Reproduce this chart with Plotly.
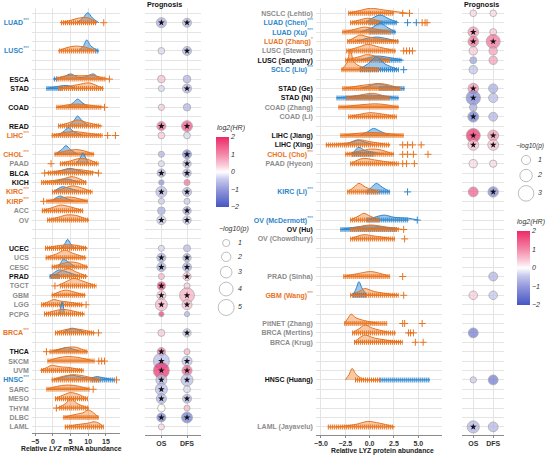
import plotly.graph_objects as go

W, H = 546, 455
SLOT0, SLOT = 13.3, 9.4
FONT = "Arial, 'Liberation Sans', sans-serif"
ORANGE = "#E8731E"
BLUE = "#2F86CC"
ORANGE_FILL = "rgba(236,126,46,0.42)"
BLUE_FILL = "rgba(60,145,215,0.5)"
GRID = "#E4E4E4"
AXIS = "#8A8A8A"
LABEL_COLORS = {"up": "#2E86C8", "down": "#E8731E", "ns": "#111111", "na": "#8C8C8C"}

# ---------------- left panel (TCGA mRNA) ----------------
left_slots = [1, 4, 7, 8, 10, 12, 13, 15, 16, 17, 18, 19, 20, 21, 22, 25, 26, 27, 28, 29, 30,
              31, 32, 34, 36, 37, 38, 39, 40, 41, 42, 43, 44]
left_names = ["LUAD", "LUSC", "ESCA", "STAD", "COAD", "READ", "LIHC", "CHOL", "PAAD", "BLCA", "KICH",
              "KIRC", "KIRP", "ACC", "OV", "UCEC", "UCS", "CESC", "PRAD", "TGCT", "GBM", "LGG", "PCPG",
              "BRCA", "THCA", "SKCM", "UVM", "HNSC", "SARC", "MESO", "THYM", "DLBC", "LAML"]
left_group = ["up", "up", "ns", "ns", "ns", "ns", "down", "down", "na", "ns", "ns", "down", "down", "na",
              "na", "ns", "na", "na", "ns", "na", "na", "na", "na", "down", "ns", "na", "na", "up", "na",
              "na", "na", "na", "na"]
left_sig = ["***", "***", "", "", "", "", "***", "***", "", "", "", "***", "***", "", "", "", "", "", "",
            "", "", "", "", "***", "", "", "", "***", "", "", "", "", ""]

left_tumor_curve = [
    [[2, 0], [4.5, 0.2], [7.5, 0.5], [9.5, 0.55], [11, 0.35], [12.5, 0]],
    [[1.5, 0], [4, 0.35], [6, 0.5], [8.5, 0.45], [10, 0.3], [12, 0]],
    [[0.6, 0], [3, 0.3], [5.1, 0.4], [8, 0.35], [11.4, 0.4], [13.5, 0.2], [15.8, 0]],
    [[1.5, 0], [4, 0.2], [7, 0.4], [10.2, 0.6], [12.5, 0.3], [14.3, 0]],
    [[1, 0], [4, 0.25], [7, 0.35], [10, 0.25], [14.6, 0]],
    [[1.5, 0], [4.5, 0.35], [7, 0.65], [9.5, 0.4], [14, 0]],
    [[-0.3, 0], [3, 0.3], [5.8, 0.42], [9, 0.3], [14.2, 0]],
    [[0.5, 0], [3, 0.3], [6.5, 0.5], [8.5, 0.4], [11.7, 0]],
    [[2, 0], [5, 0.3], [7.5, 0.55], [9.5, 0.5], [12.9, 0]],
    [[-2.3, 0], [1, 0.2], [5.5, 0.42], [9, 0.3], [12.9, 0]],
    [[-3.3, 0], [0, 0.2], [3, 0.4], [5.4, 0.62], [7.5, 0.4], [9.5, 0]],
    [[-0.2, 0], [2.5, 0.3], [5.5, 0.64], [7.5, 0.5], [11.2, 0]],
    [[-2, 0], [1, 0.25], [4, 0.45], [6, 0.4], [9.9, 0]],
    [[-3.1, 0], [0, 0.35], [2.1, 0.6], [4.5, 0.45], [8.6, 0]],
    [[-1.6, 0], [1.5, 0.3], [4, 0.55], [6.5, 0.5], [10.2, 0]],
    [[-2.1, 0], [1, 0.25], [4.5, 0.38], [7, 0.3], [9.9, 0]],
    [[-2, 0], [1, 0.4], [3.4, 0.8], [5.5, 0.5], [9.4, 0]],
    [[-0.3, 0], [2.5, 0.35], [5, 0.55], [7, 0.45], [9.9, 0]],
    [[-0.5, 0], [2, 0.5], [4.4, 0.85], [6.5, 0.5], [9.9, 0]],
    [[1.2, 0], [3.5, 0.4], [5.9, 0.8], [8.5, 0.5], [12.3, 0]],
    [[-0.3, 0], [2, 0.4], [3.7, 0.55], [6, 0.35], [9.2, 0]],
    [[-3.3, 0], [-1, 0.35], [0.2, 0.55], [2, 0.4], [5, 0.25], [8.6, 0]],
    [[-2.5, 0], [0.5, 0.35], [3, 0.5], [5.5, 0.35], [8.9, 0]],
    [[0.6, 0], [3, 0.3], [5.5, 0.45], [8, 0.35], [11.9, 0]],
    [[-0.9, 0], [2, 0.3], [4.5, 0.48], [6.5, 0.48], [9.9, 0]],
    [[-1.5, 0], [1.5, 0.35], [4, 0.48], [7, 0.4], [11.8, 0]],
    [[-3.6, 0], [-1.5, 0.35], [-0.4, 0.55], [2, 0.4], [5, 0.3], [8.7, 0]],
    [[-0.3, 0], [2.5, 0.35], [6, 0.55], [9, 0.4], [13.4, 0]],
    [[-1.8, 0], [1, 0.3], [4, 0.45], [7, 0.35], [10.4, 0]],
    [[0.6, 0], [3, 0.4], [5, 0.65], [7, 0.5], [9.9, 0]],
    [[1.2, 0], [3.5, 0.45], [5.1, 1.05], [6.8, 0.5], [10.2, 0]],
    [[2.8, 0], [6, 0.3], [8.5, 0.5], [10, 0.8], [11.5, 0.5], [13, 0]],
    [[3.4, 0], [7, 0.25], [10, 0.4], [11.7, 0.55], [13, 0.4], [14.4, 0]],
]
left_normal_curve = [
    [[6.8, 0], [8.5, 0.5], [9.9, 1.06], [11.2, 0.5], [13, 0]],
    [[7.2, 0], [8.6, 0.5], [9.6, 1.17], [10.8, 0.5], [12.9, 0]],
    [[0, 0], [3, 0.25], [5.1, 0.55], [7, 0.2], [9, 0.2], [11.5, 0.55], [13, 0.1], [14, 0]],
    [[-1.8, 0], [1, 0.2], [3.5, 0.32], [5, 0.25], [6.5, 0]],
    [[4.1, 0], [5.8, 0.5], [7, 0.87], [8.3, 0.5], [10.3, 0]],
    [[4.5, 0], [6, 0.6], [7, 1.07], [8.2, 0.6], [10.3, 0]],
    [[1.5, 0], [3.3, 0.5], [4.4, 0.85], [5.8, 0.45], [8.6, 0]],
    [[0.5, 0], [2.5, 0.5], [3.7, 0.92], [5, 0.5], [7, 0]],
    [[6.6, 0], [7.7, 0.6], [8.5, 1.14], [9.3, 0.6], [10.2, 0]],
    [[0.5, 0], [3, 0.35], [4.9, 0.5], [7, 0.3], [10, 0]],
    [[0, 0], [2, 0.25], [3.9, 0.37], [5.5, 0.25], [7.8, 0]],
    [[0, 0], [1.5, 0.35], [2.7, 0.55], [4.5, 0.4], [8, 0]],
    [[-0.5, 0], [1, 0.4], [2.1, 0.56], [3.5, 0.35], [6, 0]],
    None,
    None,
    [[2.5, 0], [3.4, 0.5], [4.2, 0.95], [5, 0.5], [6.2, 0]],
    None,
    [[1.5, 0], [2.3, 0.5], [3, 0.83], [4.2, 0.6], [6.4, 0]],
    [[-0.9, 0], [0.5, 0.45], [1.9, 0.7], [3.5, 0.55], [5.5, 0.3], [7.8, 0]],
    None,
    None,
    None,
    [[1.9, 0], [2.6, 1.3], [3.3, 0]],
    [[2.8, 0], [4.3, 0.35], [5.4, 0.5], [7, 0.35], [9.4, 0]],
    [[-0.5, 0], [2, 0.25], [3.9, 0.45], [5.5, 0.3], [8, 0]],
    None,
    None,
    [[0.5, 0], [3, 0.3], [5.4, 0.5], [8, 0.3], [10.5, 0.2], [12.5, 0.35], [14.5, 0.2], [17.5, 0]],
    None, None, None, None, None,
]
left_tumor_rug = [[2.3, 12.4], [1.7, 12.0], [1.0, 15.0], [1.5, 14.3], [1.0, 13.7], [1.5, 13.5],
                  [-0.3, 14.0], [0.5, 11.7], [2.0, 12.9], [-1.4, 11.5], [-3.3, 9.5], [-0.2, 11.2],
                  [-1.8, 9.9], [-3.1, 8.6], [-1.6, 10.2], [-2.2, 9.6], [-2.0, 9.4], [-0.3, 9.9],
                  [-0.5, 9.6], [2.0, 12.3], [-0.3, 9.2], [-3.3, 8.6], [-2.5, 8.9], [0.6, 11.9],
                  [-0.9, 9.9], [-1.5, 11.8], [-3.3, 8.7], [-0.3, 13.4], [-1.8, 10.4], [0.6, 9.9],
                  [1.8, 10.2], [3.0, 13.0], [3.4, 14.4]]
left_tumor_out = [[14.4], [], [16.0], [], [14.6], [], [15.5, 17.7, 20.0], [], [-0.5], [-2.3, 12.9], [],
                  [], [-2.6], [], [], [], [], [], [], [0.6], [], [9.4], [], [12.9], [-1.8],
                  [13.0, 13.8, 14.6], [], [18.0], [11.4], [], [1.0], [], []]
left_normal_rug = [None, [12.0, 13.0], [0.3, 1.5], [-1.8, 2.5], None, None, None, None, None, None, None,
                   None, None, None, None, None, None, None, [-0.9, 2.0], None, None, None, None, None,
                   None, None, None, [11.0, 17.5], None, None, None, None, None]

left_os_hr = [-0.8, -0.3, 0.5, -0.3, 0.4, 1.4, 0.4, -0.7, -0.3, -0.7, -1.1, -0.6, -0.4, -0.8, -0.4,
              -0.3, -0.8, -0.8, 0.6, 1.8, 0.5, 0.6, 1.8, 0.4, 1.3, -0.6, 2.0, -0.6, -0.6, -0.7, 0.0,
              -1.5, 0.3]
left_os_p = [2.3, 0.8, 1.2, 0.5, 0.6, 1.8, 0.8, 0.5, 0.5, 1.5, 0.2, 2.7, 0.5, 1.2, 1.8, 0.5, 1.8, 1.8,
             0.5, 1.4, 1.8, 3.2, 0.1, 0.9, 1.5, 5.0, 5.0, 2.7, 3.2, 2.3, 1.2, 1.8, 0.5]
left_dfs_hr = [-0.7, -0.7, -0.7, -0.7, -0.7, 1.6, -0.3, -1.3, -0.5, -0.7, 1.3, -0.6, -0.4, -0.8, -0.4,
               -0.6, -0.7, -0.8, 0.5, 0.4, 0.7, 0.5, -0.7, -0.4, 0.6, -0.5, 1.5, -0.6, -0.3, -0.7, 0.6,
               -1.5, None]
left_dfs_p = [1.8, 1.8, 1.2, 1.8, 1.1, 2.7, 0.8, 1.8, 1.5, 1.5, 0.5, 1.8, 0.5, 1.5, 1.5, 0.9, 1.5, 1.8,
              1.5, 0.5, 4.5, 2.3, 0.1, 1.5, 0.5, 2.3, 2.3, 3.2, 0.9, 1.8, 0.5, 2.7, None]

# ---------------- right panel (CPTAC protein) ----------------
right_slots = [0, 1, 2, 3, 4, 5, 6, 8, 9, 10, 11, 13, 14, 15, 16, 19, 22, 23, 24, 28, 30, 33, 34, 35, 39, 44]
right_names = ["NSCLC (Lehtio)", "LUAD (Chen)", "LUAD (Xu)", "LUAD (Zhang)", "LUSC (Stewart)",
               "LUSC (Satpathy)", "SCLC (Liu)", "STAD (Ge)", "STAD (Ni)", "COAD (Zhang)", "COAD (Li)",
               "LIHC (Jiang)", "LIHC (Xing)", "CHOL (Cho)", "PAAD (Hyeon)", "KIRC (Li)", "OV (McDermott)",
               "OV (Hu)", "OV (Chowdhury)", "PRAD (Sinha)", "GBM (Wang)", "PitNET (Zhang)",
               "BRCA (Mertins)", "BRCA (Krug)", "HNSC (Huang)", "LAML (Jayavelu)"]
right_group = ["na", "up", "up", "down", "na", "ns", "up", "ns", "ns", "na", "na", "ns", "ns", "down",
               "na", "up", "up", "ns", "na", "na", "down", "na", "na", "na", "ns", "na"]
right_sig = ["", "***", "***", "*", "", "", "***", "", "", "", "", "", "", "***", "", "***", "***", "",
             "", "", "***", "", "", "", "", ""]

right_tumor_curve = [
    [[-2.2, 0], [-1, 0.3], [0.1, 0.53], [1.5, 0.35], [3.9, 0]],
    [[-2, 0], [-1, 0.3], [-0.2, 0.47], [0.6, 0.3], [1.5, 0]],
    [[-2.8, 0], [-1.5, 0.3], [-0.6, 0.53], [0.5, 0.35], [2.2, 0]],
    [[-2.3, 0], [-1.5, 0.45], [-1, 0.69], [0, 0.45], [1.5, 0.2], [3, 0]],
    [[-2.4, 0], [-1, 0.45], [-0.2, 0.7], [1, 0.4], [2.7, 0]],
    [[-2.5, 0], [-1, 0.4], [-0.3, 0.6], [0.8, 0.4], [2.1, 0]],
    [[-2.9, 0], [-2.3, 0.8], [-2.0, 2.2], [-1.6, 0.8], [-0.8, 0.3], [0.5, 0.2], [1.5, 0]],
    [[-2.8, 0], [-1, 0.3], [0.5, 0.48], [1.5, 0.48], [3.2, 0]],
    [[-2.4, 0], [-1, 0.3], [0.3, 0.49], [1.2, 0.3], [2.1, 0]],
    [[-3.2, 0], [-1.5, 0.2], [0.5, 0.37], [1.5, 0.3], [3, 0]],
    [[-2.2, 0], [-1, 0.25], [0, 0.43], [1.2, 0.3], [2.8, 0]],
    [[-3, 0], [-1.5, 0.2], [0, 0.32], [1.5, 0.25], [3.5, 0]],
    [[-4.5, 0], [-2, 0.25], [-1, 0.53], [0, 0.35], [2.1, 0]],
    [[-2.5, 0], [-1, 0.35], [0.1, 0.55], [1, 0.5], [2.5, 0]],
    [[-2, 0], [-1.2, 0.4], [-0.6, 0.57], [0.5, 0.4], [3, 0]],
    [[-2.3, 0], [-1.6, 0.5], [-1.1, 0.91], [-0.4, 0.5], [1, 0]],
    [[-2, 0], [-1.1, 0.45], [-0.6, 0.72], [0, 0.45], [1, 0]],
    [[-2, 0], [-0.8, 0.35], [0.1, 0.48], [1.5, 0.3], [3.4, 0]],
    [[-2, 0], [-1.2, 0.3], [-0.6, 0.45], [0.5, 0.3], [2.6, 0]],
    [[-2.7, 0], [-1, 0.35], [0.1, 0.53], [1, 0.35], [2.1, 0]],
    [[-2, 0], [-1, 0.45], [-0.5, 0.72], [0.5, 0.4], [3, 0]],
    [[-2.6, 0], [-2.2, 0.6], [-1.9, 1.0], [-1.4, 0.6], [-0.5, 0.3], [1.1, 0]],
    [[-1.8, 0], [-1, 0.5], [-0.5, 0.85], [0.3, 0.5], [2.2, 0]],
    [[-1.6, 0], [-1, 0.5], [-0.5, 0.78], [0.5, 0.45], [3.4, 0]],
    [[-2.5, 0], [-2.1, 0.6], [-1.8, 1.23], [-1.4, 0.6], [-0.7, 0.1], [1, 0]],
    [[-3.4, 0], [-1.5, 0.25], [-0.2, 0.58], [1, 0.4], [2.6, 0]],
]
right_normal_curve = [
    None,
    [[-0.5, 0], [0.3, 0.5], [1.1, 0.82], [2, 0.4], [3, 0]],
    [[-1, 0], [0.2, 0.45], [1.1, 0.93], [1.9, 0.45], [2.7, 0]],
    [[-1.5, 0], [-0.2, 0.35], [0.7, 0.48], [1.8, 0.3], [3, 0]],
    None,
    [[-1, 0], [0, 0.3], [0.8, 0.45], [2, 0.3], [3.5, 0]],
    [[-1.2, 0], [-0.2, 0.6], [0.7, 1.35], [1.6, 0.6], [3, 0]],
    [[-1, 0], [0, 0.3], [0.8, 0.53], [1.8, 0.3], [3.2, 0]],
    [[-3.4, 0], [-1.5, 0.2], [0, 0.32], [1.5, 0.2], [3, 0]],
    None,
    None,
    [[-1, 0], [-0.2, 0.4], [0.4, 0.75], [1.2, 0.4], [2.1, 0]],
    [[-2.5, 0], [-1.8, 0.35], [-1.2, 0.53], [-0.5, 0.3], [0.5, 0]],
    [[-1.8, 0], [-1.1, 0.75], [-0.5, 0.4], [0.5, 0.2], [1.5, 0]],
    None,
    [[-0.3, 0], [0.2, 0.5], [0.7, 0.91], [1.3, 0.5], [2.1, 0]],
    [[-0.3, 0], [0.5, 0.3], [1.5, 0.53], [2.5, 0.3], [4, 0.2], [5, 0]],
    [[-3, 0], [-1.5, 0.25], [0, 0.4], [1.5, 0.25], [2.8, 0]],
    None,
    None,
    [[-1.7, 0], [-1.35, 0.8], [-1.1, 1.45], [-0.8, 0.8], [-0.3, 0]],
    None, None, None, None, None,
]
right_tumor_rug = [[-2.2, 2.5], [-2.0, 1.0], [-2.8, 2.2], [-2.3, 3.0], [-2.4, 2.7], [-2.5, 2.1],
                   [-2.9, 1.0], [-2.8, 3.2], [-2.4, 2.1], [-3.2, 3.0], [-2.2, 2.8], [-3.0, 3.5],
                   [-4.5, 2.1], [-2.5, 2.5], [-2.0, 3.0], [-2.3, 1.0], [-2.0, 1.0], [-2.0, 3.0],
                   [-2.0, 2.6], [-2.7, 2.1], [-2.0, 3.0], [-2.6, 1.8], [-1.8, 2.7], [-1.6, 3.4],
                   [-1.5, 1.1], [-4.3, 2.5]]
right_tumor_out = [[3.4, 4.1], [5.4, 5.7, 5.9], [], [], [3.5, 3.8, 4.1, 4.4], [], [], [], [], [], [],
                   [], [3.4, 3.9, 4.4, 5.3], [3.4, 3.9, 4.5, 6.0], [3.4, 3.8, 4.6], [], [], [3.5],
                   [3.6], [3.4], [3.5], [3.4, 3.6, 5.4], [4.0, 4.2, 4.5], [4.7, 5.5], [], []]
right_normal_rug = [None, [0.0, 2.8], [0.0, 2.7], None, None, [1.0, 3.3], [-1.0, 3.0], [1.0, 3.6],
                    [-3.4, 3.0], None, None, None, None, [-1.8, 0.5], None, [-0.3, 2.1], [-0.3, 4.0],
                    [-3.0, 2.8], None, None, [-1.7, -0.3], None, None, None, [1.1, 6.2], None]
right_normal_out = [[], [3.9, 4.8], [], [], [], [], [3.5], [], [], [], [], [], [], [], [], [3.9], [4.9],
                    [], [], [], [], [], [], [], [], []]

right_os_hr = [0.3, None, 0.9, 1.3, 0.4, -0.9, -0.5, 1.0, -1.3, -0.8, -1.5, 2.0, 0.5, None, 0.3, 1.5,
               None, None, None, None, 0.4, None, -1.5, None, -0.4, -0.7]
right_os_p = [0.2, None, 1.4, 1.4, 0.7, 0.3, 0.7, 1.4, 2.6, 0.5, 1.5, 2.5, 1.5, None, 0.7, 1.2,
              None, None, None, None, 0.8, None, 1.2, None, 0.1, 1.9]
right_dfs_hr = [0.3, None, 0.4, 1.3, 0.8, 0.8, None, -0.8, -0.6, None, -0.7, 0.9, 0.5, None, 0.3, -1.3,
                None, None, None, -0.7, -0.5, None, None, None, -1.5, -0.7]
right_dfs_p = [0.2, None, 0.3, 2.5, 0.7, 0.7, None, 1.0, 1.0, None, 0.9, 1.5, 1.5, None, 0.4, 1.4,
               None, None, None, 0.9, 0.8, None, None, None, 1.2, 1.2]

size_legend_left = [1, 2, 3, 4, 5]
size_legend_right = [1, 2, 3]
hr_ticks = [-2, -1, 0, 1, 2]
SIG_P = 1.3


def left_diam(v):
    return 5.0 + 2.2 * v


def right_diam(v):
    return 6.0 + 3.2 * v


def slot_range(top_px, bot_px):
    return [(bot_px - SLOT0) / SLOT, (top_px - SLOT0) / SLOT]


def label_html(name, group, sig):
    c = LABEL_COLORS[group]
    s = "<sup>%s</sup>" % sig if sig else ""
    return '<span style="color:%s"><b>%s</b>%s</span>' % (c, name, s)


fig = go.Figure()


def add_ridge(pts, slot, lc, fc, xa, ya):
    fig.add_trace(go.Scatter(
        x=[p[0] for p in pts], y=[slot - p[1] for p in pts], mode="lines",
        line=dict(color=lc, width=1, shape="spline", smoothing=0.9),
        fill="toself", fillcolor=fc, xaxis=xa, yaxis=ya, hoverinfo="skip"))


def add_rug(rng, outs, slot, color, xa, ya):
    if rng:
        fig.add_trace(go.Scatter(x=rng, y=[slot, slot], mode="lines",
                                 line=dict(color=color, width=5, dash="1px,1px"),
                                 xaxis=xa, yaxis=ya, hoverinfo="skip"))
        fig.add_trace(go.Scatter(x=rng, y=[slot, slot], mode="lines",
                                 line=dict(color=color, width=1.4),
                                 xaxis=xa, yaxis=ya, hoverinfo="skip"))
    if outs:
        fig.add_trace(go.Scatter(x=outs, y=[slot] * len(outs), mode="markers",
                                 marker=dict(symbol="cross-thin", size=5, line=dict(color=color, width=1)),
                                 cliponaxis=False, xaxis=xa, yaxis=ya, hoverinfo="skip"))


def draw_ridges(slots, tcur, ncur, trug, tout, nrug, nout, xa, ya):
    for i, s in enumerate(slots):
        if ncur[i]:
            add_ridge(ncur[i], s, BLUE, BLUE_FILL, xa, ya)
        add_ridge(tcur[i], s, ORANGE, ORANGE_FILL, xa, ya)
        if nrug[i]:
            add_rug(nrug[i], nout[i] if nout else [], s, BLUE, xa, ya)
        add_rug(trug[i], tout[i], s, ORANGE, xa, ya)


draw_ridges(left_slots, left_tumor_curve, left_normal_curve, left_tumor_rug, left_tumor_out,
            left_normal_rug, None, "x", "y")
draw_ridges(right_slots, right_tumor_curve, right_normal_curve, right_tumor_rug, right_tumor_out,
            right_normal_rug, right_normal_out, "x3", "y3")


def draw_bubbles(slots, cols, dfun, cax, xa, ya):
    sx, sy = [], []
    for ci, (hr, pv) in enumerate(cols):
        xs, ys, cs, ss = [], [], [], []
        for s, h, p in zip(slots, hr, pv):
            if h is None:
                continue
            xs.append(ci)
            ys.append(s)
            cs.append(h)
            ss.append(dfun(p))
            if p >= SIG_P:
                sx.append(ci)
                sy.append(s)
        fig.add_trace(go.Scatter(x=xs, y=ys, mode="markers",
                                 marker=dict(size=ss, color=cs, coloraxis=cax,
                                             line=dict(color="#8A8A8A", width=0.8)),
                                 xaxis=xa, yaxis=ya, hoverinfo="skip", cliponaxis=False))
    fig.add_trace(go.Scatter(x=sx, y=sy, mode="markers",
                             marker=dict(symbol="star", size=5, color="#111111", line=dict(width=0)),
                             xaxis=xa, yaxis=ya, hoverinfo="skip", cliponaxis=False))


draw_bubbles(left_slots, [(left_os_hr, left_os_p), (left_dfs_hr, left_dfs_p)], left_diam, "coloraxis", "x2", "y2")
draw_bubbles(right_slots, [(right_os_hr, right_os_p), (right_dfs_hr, right_dfs_p)], right_diam, "coloraxis2", "x4", "y4")


def draw_size_legend(vals, dfun, x0, y0, xa, ya):
    ys = [y0]
    for a, b in zip(vals[:-1], vals[1:]):
        ys.append(ys[-1] + 0.35 * (dfun(a) + dfun(b)) + 8)
    fig.add_trace(go.Scatter(x=[x0] * len(vals), y=ys, mode="markers",
                             marker=dict(size=[dfun(v) for v in vals], color="white",
                                         line=dict(color="#8A8A8A", width=0.8)),
                             xaxis=xa, yaxis=ya, hoverinfo="skip", cliponaxis=False))
    fig.add_trace(go.Scatter(x=[x0 + 12] * len(vals), y=ys, mode="text",
                             text=["<i>%d</i>" % v for v in vals], textposition="middle right",
                             textfont=dict(family=FONT, size=7, color="#333333"),
                             xaxis=xa, yaxis=ya, hoverinfo="skip", cliponaxis=False))


draw_size_legend(size_legend_left, left_diam, 225, 243, "x5", "y5")
draw_size_legend(size_legend_right, right_diam, 526, 160, "x6", "y6")

colorscale = [[0.0, "#4556C4"], [0.25, "#9399DB"], [0.4, "#C8CBEE"], [0.5, "#FFFFFF"],
              [0.6, "#F9CAD8"], [0.75, "#F489A9"], [1.0, "#EC2A68"]]


def cbar(xpx, ypx, lenpx):
    return dict(x=xpx / W, xanchor="left", y=1 - ypx / H, yanchor="middle", len=lenpx, lenmode="pixels",
                thickness=13, thicknessmode="pixels", xpad=0, ypad=0, outlinewidth=0,
                tickvals=hr_ticks, ticktext=["<i>%s</i>" % str(t).replace("-", "\u2212") for t in hr_ticks],
                tickfont=dict(family=FONT, size=7, color="#333333"), ticks="", ticklabelposition="outside")


tickfont_b = dict(family=FONT, size=7, color="#333333", weight="bold")


def yaxis_def(top, bot, labels=None, slots=None):
    d = dict(domain=[1 - bot / H, 1 - top / H], range=slot_range(top, bot), tickvals=list(range(45)),
             showgrid=True, gridcolor=GRID, gridwidth=0.7, zeroline=False, ticks="", showline=False,
             fixedrange=True)
    if labels is None:
        d["showticklabels"] = False
    else:
        txt = [""] * 45
        for s, l in zip(slots, labels):
            txt[s] = l
        d["ticktext"] = txt
        d["tickfont"] = dict(family=FONT, size=7)
        d["ticklabelstandoff"] = 2
    return d


left_labels = [label_html(n, g, s) for n, g, s in zip(left_names, left_group, left_sig)]
right_labels = [label_html(n, g, s) for n, g, s in zip(right_names, right_group, right_sig)]

xcommon = dict(showgrid=True, gridcolor=GRID, gridwidth=0.7, zeroline=False, showline=True,
               linecolor=AXIS, linewidth=1, ticks="outside", ticklen=2, tickcolor=AXIS,
               tickfont=tickfont_b)

fig.update_layout(
    width=W, height=H, margin=dict(l=0, r=0, t=0, b=0), paper_bgcolor="white", plot_bgcolor="white",
    showlegend=False, font=dict(family=FONT),
    xaxis=dict(domain=[30 / W, 118 / W], range=[-5.92, 18.87], tickvals=[-5, 0, 5, 10, 15], anchor="y", **xcommon),
    yaxis=dict(anchor="x", **yaxis_def(8, 433, left_labels, left_slots)),
    xaxis2=dict(domain=[144 / W, 200 / W], range=[-0.62, 1.556], tickvals=[0, 1], ticktext=["OS", "DFS"], anchor="y2", **xcommon),
    yaxis2=dict(anchor="x2", **yaxis_def(8, 435)),
    xaxis3=dict(domain=[315 / W, 442 / W], range=[-5.53, 7.48], tickvals=[-5, -2.5, 0, 2.5, 5, 7.5],
                tickformat=".1f", anchor="y3", **xcommon),
    yaxis3=dict(anchor="x3", **yaxis_def(8, 435, right_labels, right_slots)),
    xaxis4=dict(domain=[462 / W, 504 / W], range=[-0.55, 1.55], tickvals=[0, 1], ticktext=["OS", "DFS"], anchor="y4", **xcommon),
    yaxis4=dict(anchor="x4", **yaxis_def(8, 435)),
    xaxis5=dict(domain=[205 / W, 260 / W], range=[205, 260], visible=False, anchor="y5"),
    yaxis5=dict(domain=[1 - 320 / H, 1 - 220 / H], range=[320, 220], visible=False, anchor="x5"),
    xaxis6=dict(domain=[508 / W, 546 / W], range=[508, 546], visible=False, anchor="y6"),
    yaxis6=dict(domain=[1 - 205 / H, 1 - 140 / H], range=[205, 140], visible=False, anchor="x6"),
    coloraxis=dict(cmin=-2, cmax=2, colorscale=colorscale, colorbar=cbar(215, 172, 70)),
    coloraxis2=dict(cmin=-2, cmax=2, colorscale=colorscale, colorbar=cbar(517, 268, 74)),
)

ann = [
    ("<b>Prognosis</b>", 144, 5, "left", 7.2, "#111111"),
    ("<b>Prognosis</b>", 462, 5, "left", 7.2, "#111111"),
    ("<b>Relative <i>LYZ</i> mRNA abundance</b>", 70, 448, "center", 6.8, "#222222"),
    ("<b>Relative LYZ protein abundance</b>", 382, 451, "center", 6.8, "#222222"),
    ("<i>log2(HR)</i>", 214, 128, "left", 7, "#333333"),
    ("<i>log2(HR)</i>", 515, 222, "left", 7, "#333333"),
    ("<i>\u2212log10(p)</i>", 216, 229, "left", 7, "#333333"),
    ("<i>\u2212log10(p)</i>", 514, 146, "left", 6.6, "#333333"),
]
for t, xp, yp, anc, fs, col in ann:
    fig.add_annotation(text=t, x=xp / W, y=1 - yp / H, xref="paper", yref="paper", xanchor=anc,
                       yanchor="middle", showarrow=False, font=dict(family=FONT, size=fs, color=col))

fig.write_html("out.html")
